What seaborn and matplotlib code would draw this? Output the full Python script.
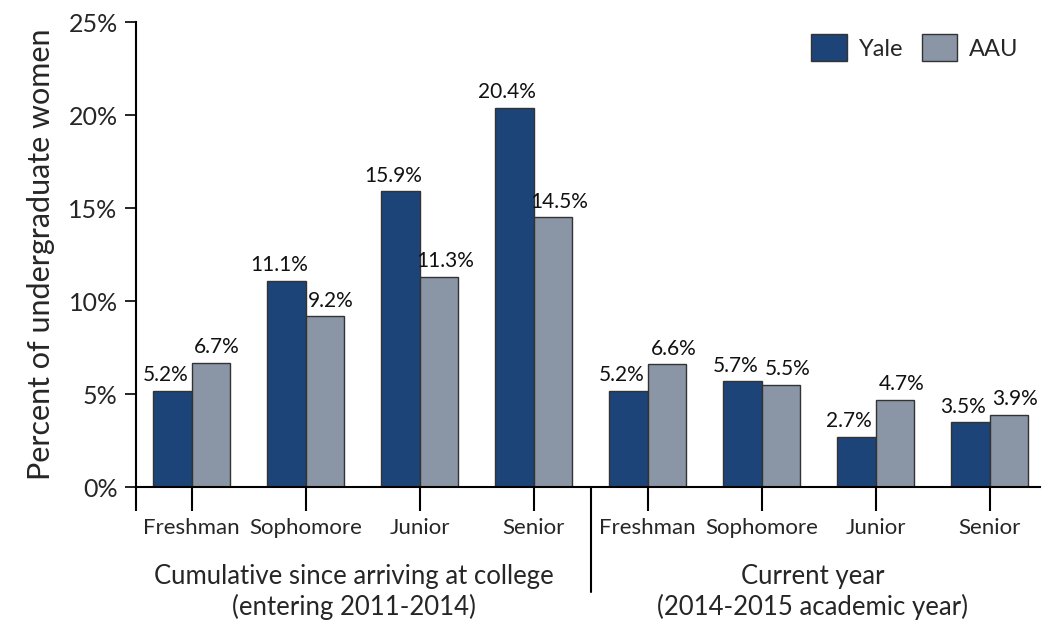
import numpy as np
import pandas as pd
import matplotlib
matplotlib.use('Agg')
import matplotlib.pyplot as plt
import seaborn as sns

# chart values
classes = ['Freshman', 'Sophomore', 'Junior', 'Senior']
groups = ['Cumulative since arriving at college\n(entering 2011-2014)',
          'Current year\n(2014-2015 academic year)']
yale = [5.2, 11.1, 15.9, 20.4, 5.2, 5.7, 2.7, 3.5]
aau = [6.7, 9.2, 11.3, 14.5, 6.6, 5.5, 4.7, 3.9]
yticks = [0, 5, 10, 15, 20, 25]

keys = [f'{g}-{c}' for g in range(2) for c in classes]
df = pd.DataFrame({
    'key': keys * 2,
    'value': yale + aau,
    'school': ['Yale'] * len(keys) + ['AAU'] * len(keys),
})

sns.set_style('white')
plt.rcParams['font.family'] = ['Lato', 'DejaVu Sans']

fig = plt.figure(figsize=(10.44, 6.32), dpi=100)
ax = fig.add_axes([0.130, 0.229, 0.866, 0.736])

sns.barplot(data=df, x='key', y='value', hue='school', order=keys,
            hue_order=['Yale', 'AAU'], palette=['#1c4478', '#8a95a5'],
            saturation=1, width=0.68, edgecolor='#333333', linewidth=1.0,
            ax=ax, errorbar=None)

# value labels, nudged apart so neighbours don't collide
for cont, dx in zip(ax.containers, [-5, 4.5]):
    for bar, v in zip(cont.patches, cont.datavalues):
        ax.annotate(f'{v:.1f}%', (bar.get_x() + bar.get_width() / 2, v),
                    xytext=(dx, 4), textcoords='offset points',
                    ha='center', va='bottom', fontsize=15, color='#111111')

xl = (-0.49, 7.44)
ax.set_xlim(xl)
ax.set_ylim(0, 25)
ax.set_yticks(yticks)
ax.set_yticklabels([f'{t}%' for t in yticks], fontsize=18)
ax.set_xticks(range(len(keys)))
ax.set_xticklabels(classes * 2, fontsize=16)
ax.set_xticks([xl[0]], minor=True)
ax.tick_params(axis='x', which='both', direction='out', length=17, width=1.5,
               color='black', bottom=True, pad=5)
ax.tick_params(axis='y', direction='out', length=8, width=1.2, left=True,
               color='black', pad=5)
ax.set_xlabel('')
ax.set_ylabel('Percent of undergraduate women', fontsize=22, labelpad=10)

for side in ['top', 'right']:
    ax.spines[side].set_visible(False)
for side in ['left', 'bottom']:
    ax.spines[side].set_color('black')
    ax.spines[side].set_linewidth(1.5)

# divider between the two groups
ax.plot([3.5, 3.5], [0, -0.226], transform=ax.get_xaxis_transform(),
        color='black', lw=1.5, clip_on=False)

# group labels
for i, g in enumerate(groups):
    ax.text(1.42 + i * 4.03, -0.165, g, transform=ax.get_xaxis_transform(),
            ha='center', va='top', fontsize=18.5, linespacing=1.25)

leg = ax.legend(loc='upper right', bbox_to_anchor=(1.0, 1.02), frameon=False,
                fontsize=17, ncol=2, handlelength=1.5, handleheight=1.4,
                columnspacing=0.8, handletextpad=0.5)

fig.savefig('out.png', dpi=100)
